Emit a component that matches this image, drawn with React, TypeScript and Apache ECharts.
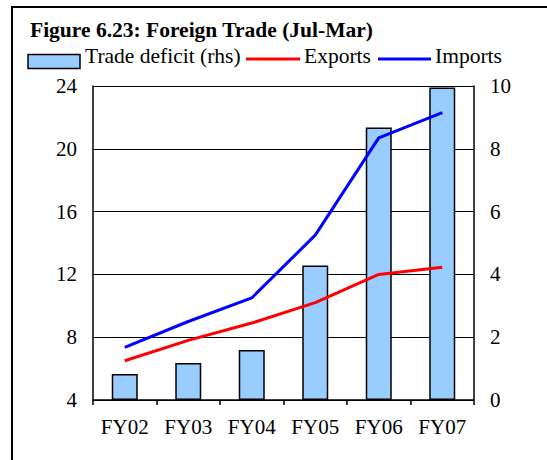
import React, { useEffect, useRef } from "react";
import * as echarts from "echarts";

const categories = ["FY02", "FY03", "FY04", "FY05", "FY06", "FY07"];
const tradeDeficit = [0.83, 1.18, 1.59, 4.28, 8.68, 9.95];
const exportsData = [6.5, 7.8, 8.9, 10.2, 12.0, 12.45];
const importsData = [7.35, 9.0, 10.5, 14.5, 20.7, 22.3];

const titleText = "Figure 6.23: Foreign Trade (Jul-Mar)";
const legendNames = ["Trade deficit (rhs)", "Exports", "Imports"];

const FONT = "'Liberation Serif', 'Times New Roman', serif";

export default function App() {
  const ref = useRef<HTMLDivElement>(null);
  useEffect(() => {
    if (!ref.current) return;
    const chart = echarts.init(ref.current, undefined, { renderer: "svg" });
    const option: any = {
      animation: false,
      backgroundColor: "#fff",
      textStyle: { fontFamily: FONT },
      grid: { left: 93, top: 86, right: 73, bottom: 60, containLabel: false },
      xAxis: {
        type: "category",
        data: categories,
        boundaryGap: true,
        axisLine: { show: true, lineStyle: { color: "#000", width: 1.5 } },
        axisTick: { show: true, length: 5, lineStyle: { color: "#000", width: 1.5 } },
        axisLabel: { color: "#000", fontSize: 21, fontFamily: FONT, margin: 16 },
        splitLine: { show: false },
      },
      yAxis: [
        {
          type: "value",
          min: 4,
          max: 24,
          interval: 4,
          position: "left",
          axisLine: { show: true, lineStyle: { color: "#000", width: 1.5 } },
          axisTick: { show: false },
          axisLabel: { color: "#000", fontSize: 21, fontFamily: FONT, margin: 16 },
          splitLine: { show: true, lineStyle: { color: "#000", width: 1 } },
        },
        {
          type: "value",
          min: 0,
          max: 10,
          interval: 2,
          position: "right",
          axisLine: { show: true, lineStyle: { color: "#000", width: 1.5 } },
          axisTick: { show: false },
          axisLabel: { color: "#000", fontSize: 21, fontFamily: FONT, margin: 16 },
          splitLine: { show: false },
        },
      ],
      series: [
        {
          name: legendNames[0],
          type: "bar",
          yAxisIndex: 1,
          data: tradeDeficit,
          barWidth: 26,
          itemStyle: { color: "#99CCFF", borderColor: "#000", borderWidth: 1.5 },
        },
        {
          name: legendNames[1],
          type: "line",
          yAxisIndex: 0,
          data: exportsData,
          symbol: "none",
          lineStyle: { color: "#FF0000", width: 3 },
          itemStyle: { color: "#FF0000" },
        },
        {
          name: legendNames[2],
          type: "line",
          yAxisIndex: 0,
          data: importsData,
          symbol: "none",
          lineStyle: { color: "#0000FF", width: 3 },
          itemStyle: { color: "#0000FF" },
        },
      ],
      graphic: [
        {
          type: "rect",
          shape: { x: 12, y: 7, width: 600, height: 500 },
          style: { fill: "none", stroke: "#000", lineWidth: 2 },
          silent: true,
        },
        {
          type: "text",
          x: 30,
          y: 30,
          style: {
            text: titleText,
            font: `bold 21.5px ${FONT}`,
            fill: "#000",
            verticalAlign: "middle",
            align: "left",
          },
        },
        {
          type: "rect",
          shape: { x: 28, y: 54.5, width: 52, height: 14 },
          style: { fill: "#99CCFF", stroke: "#000", lineWidth: 1.5 },
        },
        {
          type: "text",
          x: 85,
          y: 56,
          style: {
            text: legendNames[0],
            font: `21.5px ${FONT}`,
            fill: "#000",
            verticalAlign: "middle",
            align: "left",
          },
        },
        {
          type: "line",
          shape: { x1: 246, y1: 59, x2: 300, y2: 59 },
          style: { stroke: "#FF0000", lineWidth: 3 },
        },
        {
          type: "text",
          x: 304,
          y: 56,
          style: {
            text: legendNames[1],
            font: `21.5px ${FONT}`,
            fill: "#000",
            verticalAlign: "middle",
            align: "left",
          },
        },
        {
          type: "line",
          shape: { x1: 378, y1: 59, x2: 431, y2: 59 },
          style: { stroke: "#0000FF", lineWidth: 3 },
        },
        {
          type: "text",
          x: 435,
          y: 56,
          style: {
            text: legendNames[2],
            font: `21.5px ${FONT}`,
            fill: "#000",
            verticalAlign: "middle",
            align: "left",
          },
        },
      ],
    };
    chart.setOption(option);
    return () => chart.dispose();
  }, []);
  return (
    <div
      ref={ref}
      style={{ position: "absolute", left: 0, top: 0, width: 547, height: 460, background: "#fff" }}
    />
  );
}
